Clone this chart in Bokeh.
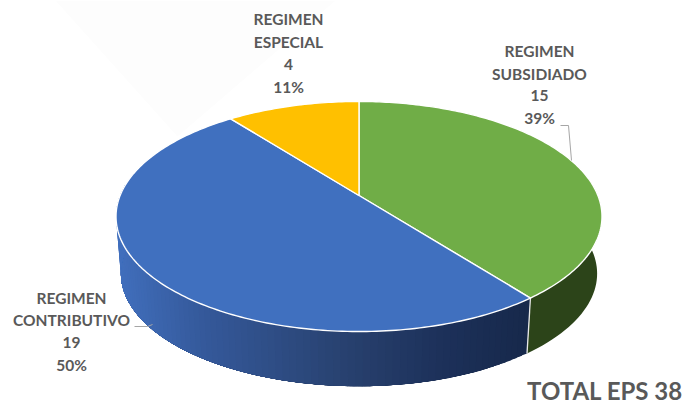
import math
from bokeh.plotting import figure
from bokeh.models import Range1d
from bokeh.embed import file_html
from bokeh.resources import INLINE
from bokeh.core.properties import value

# ---- data
categories = ["REGIMEN SUBSIDIADO", "REGIMEN CONTRIBUTIVO", "REGIMEN ESPECIAL"]
counts = [15, 19, 4]
percent_labels = ["39%", "50%", "11%"]
label_lines = [["REGIMEN", "SUBSIDIADO"], ["REGIMEN", "CONTRIBUTIVO"], ["REGIMEN", "ESPECIAL"]]
top_colors = ["#70AD47", "#4070BF", "#FFC000"]
total_label = "TOTAL EPS 38"

# ---- layout of the perspective pie (page pixels)
CX, APEX_Y, BX, AY, K = 358.5, 195.0, 238.9, 111.2, 0.1826
WALL_SCALE, WALL_APEX_Y, WALL_CX = 0.98, 252.5, 358.5


def project(theta, scale=1.0, apex=APEX_Y, cx=CX):
    sx, sy = math.sin(theta), math.cos(theta)
    w = 1 + K * sy
    return cx + scale * BX * sx / w, apex - scale * AY * sy / w


def lerp_color(stops, t):
    for (t0, c0), (t1, c1) in zip(stops, stops[1:]):
        if t <= t1:
            f = (t - t0) / (t1 - t0) if t1 > t0 else 0
            rgb = [round(int(c0[i:i + 2], 16) * (1 - f) + int(c1[i:i + 2], 16) * f) for i in (1, 3, 5)]
            return "#%02x%02x%02x" % tuple(rgb)
    return stops[-1][1]


total = sum(counts)
edges = [0.0]
for c in counts:
    edges.append(edges[-1] + c / total * 2 * math.pi)

p = figure(width=698, height=404, x_range=Range1d(0, 698), y_range=Range1d(404, 0),
           output_backend="svg", toolbar_location=None, min_border=0)
p.axis.visible = False
p.grid.visible = False
p.outline_line_color = None
p.background_fill_color = "#ffffff"
p.border_fill_color = "#ffffff"

# faint backdrop of the source picture
p.patch([55, 177, 335], [0, 136, 0], fill_color="#fdfdfd", line_color=None)

# ---- side wall: painter's order from the far right strip, each strip overlaps the next
blue_stops = [(116, "#416fbd"), (200, "#355a9c"), (349, "#28416f"), (450, "#1c3059"), (530, "#17294b")]
N = 90
junction = edges[1]
wall_end = 3 * math.pi / 2 + 0.1
step = (wall_end - junction) / N
wx, wy, wc = [], [], []
for i in range(N):
    a = junction + step * i
    ts = [wall_end - (wall_end - a) * s / 12 for s in range(13)]
    top = [project(t) for t in ts]
    low = [project(t, WALL_SCALE, WALL_APEX_Y, WALL_CX) for t in reversed(ts)]
    pts = top + low
    wx.append([q[0] for q in pts])
    wy.append([q[1] for q in pts])
    wc.append(lerp_color(blue_stops, project(a)[0]))
p.patches(wx, wy, fill_color=wc, line_color=None)

green_t = [math.pi * 0.42 + (junction - math.pi * 0.42) * i / 40 for i in range(41)]
gx = [project(t)[0] for t in green_t] + [project(t, WALL_SCALE, WALL_APEX_Y, WALL_CX)[0] for t in reversed(green_t)]
gy = [project(t)[1] for t in green_t] + [project(t, WALL_SCALE, WALL_APEX_Y, WALL_CX)[1] for t in reversed(green_t)]
p.patch(gx, gy, fill_color="#2c4419", line_color=None)

jt, jb = project(junction), project(junction, WALL_SCALE, WALL_APEX_Y, WALL_CX)
p.line([jt[0], jb[0]], [jt[1], jb[1]], line_color="#e8e8e8", line_width=1.3)

# ---- top face
for i, color in enumerate(top_colors):
    steps = max(8, int((edges[i + 1] - edges[i]) * 60))
    ts = [edges[i] + (edges[i + 1] - edges[i]) * s / steps for s in range(steps + 1)]
    xs = [CX] + [project(t)[0] for t in ts]
    ys = [APEX_Y] + [project(t)[1] for t in ts]
    p.patch(xs, ys, fill_color=color, line_color="#ffffff", line_width=1.4, line_join="round")

# ---- leader lines
p.line([560, 568, 571], [125, 125, 160], line_color="#a6a6a6", line_width=1)
p.line([134, 147, 152], [326, 326, 324], line_color="#a6a6a6", line_width=1)

# ---- labels
anchors = [(539, [50, 73, 95, 117]), (71, [297, 319, 342, 364]), (288, [18, 41, 64, 86])]
tx, ty, tt = [], [], []
for (ax, rows), lines, n, pct in zip(anchors, label_lines, counts, percent_labels):
    for yy, s in zip(rows, lines + [str(n), pct]):
        tx.append(ax)
        ty.append(yy)
        tt.append(s)
p.text(tx, ty, text=tt, text_font=value("Lato"), text_font_style="bold", text_font_size="15.5px",
       text_color="#595959", text_align="center", text_baseline="middle")
p.text([604.5], [389.5], text=[total_label], text_font=value("Lato"), text_font_style="bold",
       text_font_size="24px", text_color="#595959", text_align="center", text_baseline="middle")

open("out.html", "w").write(file_html(p, INLINE))
